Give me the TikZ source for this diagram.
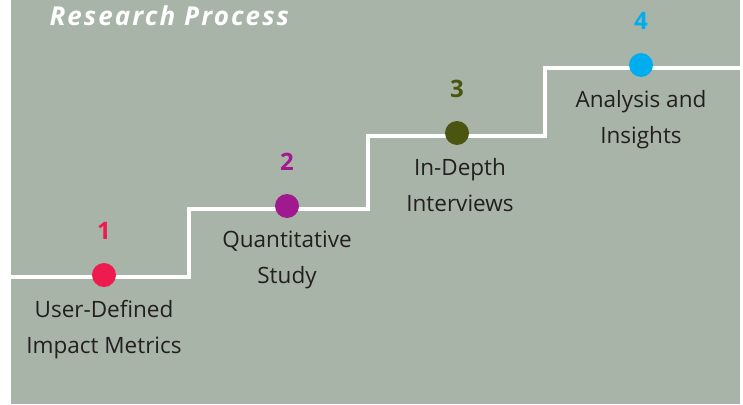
\documentclass[tikz,border=0pt]{standalone}
\usepackage{fontspec}
\setmainfont{Open Sans}
\newfontfamily\titlefont[LetterSpace=8]{Open Sans}
\usetikzlibrary{positioning}

\definecolor{sage}{HTML}{A9B4A8}
\definecolor{inkdark}{HTML}{231F20}
\definecolor{stepone}{HTML}{EE1B4F}
\definecolor{steptwo}{HTML}{A0198E}
\definecolor{stepthree}{HTML}{4A560F}
\definecolor{stepfour}{HTML}{00AEEF}

\begin{document}
\begin{tikzpicture}[
            x = 1pt, y = -1pt, % pixel grid, y runs down
            node distance = 13pt, % gap between dot and texts
            stair/.style = {draw = white, line width = 4.5pt}, % the staircase
            dot/.style = {circle, minimum size = 24pt, inner sep = 0pt}
        ]

        \tikzstyle{num}=[
            font = \fontsize{24}{26}\selectfont\bfseries,
            inner sep = 2pt
        ]
        \tikzstyle{steptext}=[
            align = center,
            text = inkdark,
            font = \fontsize{22.5}{36}\selectfont,
            inner sep = 0pt
        ]

        \useasboundingbox (0,0) rectangle (743,404);
        \fill[sage] (11,0) rectangle (740,404);

        % title
        \node[anchor=west, text=white, font=\titlefont\fontsize{26}{28}\selectfont\bfseries\itshape] (title) at (46,16) {Research Process};

        % staircase
        \coordinate (start) at (11,277);
        \coordinate (c1) at (189,209);
        \coordinate (c2) at (368,136);
        \coordinate (c3) at (545,68);
        \coordinate (end) at (743,68);
        \draw[stair] (start) -| (c1) -| (c2) -| (c3) -- (end);

        % dots
        \node[dot, fill=stepone] (d1) at (104,275) {};
        \node[dot, fill=steptwo] (d2) at (287,206) {};
        \node[dot, fill=stepthree] (d3) at (457,133) {};
        \node[dot, fill=stepfour] (d4) at (641,65) {};

        % numbers
        \node[num, text=stepone, above=21pt of d1] (n1) {1};
        \node[num, text=steptwo, above=21pt of d2] (n2) {2};
        \node[num, text=stepthree, above=21pt of d3] (n3) {3};
        \node[num, text=stepfour, above=21pt of d4] (n4) {4};

        % step texts
        \node[steptext, below=of d1] (t1) {User-Defined\\Impact Metrics};
        \node[steptext, below=of d2] (t2) {Quantitative\\Study};
        \node[steptext, below=of d3, xshift=3pt] (t3) {In-Depth\\Interviews};
        \node[steptext, below=of d4] (t4) {Analysis and\\Insights};

    \end{tikzpicture}
\end{document}
